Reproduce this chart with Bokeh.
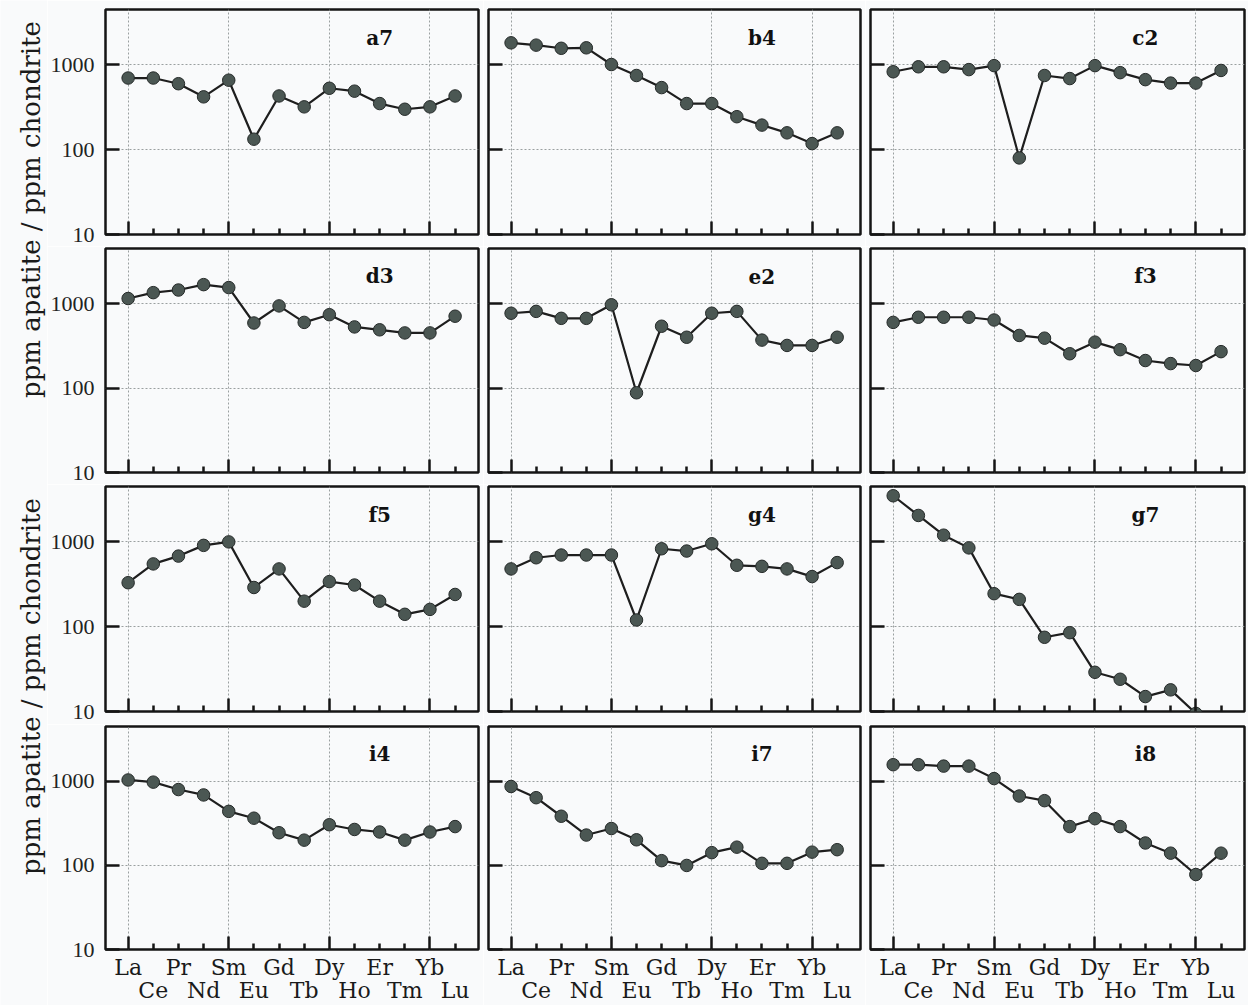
import math
from bokeh.plotting import figure
from bokeh.models import Range1d, FixedTicker, LinearAxis, PrintfTickFormatter, ColumnDataSource
from bokeh.layouts import row, column
from bokeh.embed import file_html
from bokeh.resources import INLINE
from bokeh.core.properties import value

nan = float("nan")

# ---------------- data ----------------
elements = ["La", "Ce", "Pr", "Nd", "Sm", "Eu", "Gd", "Tb", "Dy", "Ho", "Er", "Tm", "Yb", "Lu"]
upper_labels = ["La", "Pr", "Sm", "Gd", "Dy", "Er", "Yb"]
lower_labels = ["Ce", "Nd", "Eu", "Tb", "Ho", "Tm", "Lu"]
y_ticks = [10, 100, 1000]
y_title = "ppm apatite / ppm chondrite"

a7 = [700, 700, 600, 420, 660, 133, 430, 320, 530, 490, 350, 300, 320, 430]
b4 = [1820, 1710, 1570, 1590, 1010, 750, 540, 350, 350, 245, 195, 158, 118, 158]
c2 = [830, 950, 950, 880, 980, 80, 750, 690, 980, 810, 670, 610, 610, 860]
d3 = [1150, 1350, 1450, 1680, 1550, 590, 940, 600, 740, 530, 490, 450, 450, 710]
e2 = [770, 810, 670, 670, 970, 88, 540, 400, 770, 810, 370, 320, 320, 400]
f3 = [600, 690, 690, 690, 640, 420, 390, 255, 350, 285, 212, 195, 185, 270]
f5 = [330, 550, 680, 910, 1000, 290, 480, 200, 340, 310, 200, 140, 160, 240]
g4 = [480, 650, 700, 700, 700, 120, 830, 780, 950, 530, 515, 480, 390, 570]
g7 = [3500, 2050, 1200, 850, 245, 210, 75, 85, 29, 24, 15, 18, 9.5, nan]
i4 = [1040, 980, 800, 690, 440, 365, 245, 200, 305, 268, 250, 200, 250, 290]
i7 = [870, 640, 385, 230, 275, 202, 114, 100, 142, 165, 106, 106, 144, 154]
i8 = [1580, 1580, 1520, 1520, 1080, 670, 590, 290, 360, 290, 185, 140, 78, 140]

panel_names = [["a7", "b4", "c2"], ["d3", "e2", "f3"], ["f5", "g4", "g7"], ["i4", "i7", "i8"]]
panel_values = {"a7": a7, "b4": b4, "c2": c2, "d3": d3, "e2": e2, "f3": f3,
                "f5": f5, "g4": g4, "g7": g7, "i4": i4, "i7": i7, "i8": i8}

# ---------------- geometry / style ----------------
TITLE_W = 47
col_specs = [(56, 375, 5), (5, 372, 5), (5, 374, 4)]          # left border, frame width, right border
row_specs = [(9, 225, 12), (2, 224, 12), (2, 225, 13), (2, 223, 56)]  # top border, frame height, bottom border
BG = "#f9fafb"
SERIF = "DejaVu Serif"
TICK_FONT = "Liberation Serif"
INK = "#151515"
positions = list(range(len(elements)))


def hide_labels(ax):
    ax.major_label_text_color = None
    ax.major_label_text_font_size = "1px"
    ax.major_label_standoff = 0


def make_panel(name, vals, r, c):
    lb, fw, rb = col_specs[c]
    tb, fh, bb = row_specs[r]
    p = figure(width=lb + fw + rb, height=tb + fh + bb, y_axis_type="log",
               x_range=Range1d(-0.9, 13.93), y_range=Range1d(10, 4500),
               output_backend="svg", toolbar_location=None,
               min_border_left=lb, min_border_right=rb, min_border_top=tb, min_border_bottom=bb,
               background_fill_color=BG, border_fill_color=BG)
    p.outline_line_color = INK
    p.outline_line_width = 2.5
    p.outline_line_alpha = 1.0

    # x axis (ticks only)
    xa = p.below[0]
    xa.ticker = FixedTicker(ticks=[0, 4, 8, 12], minor_ticks=[1, 2, 3, 5, 6, 7, 9, 10, 11, 13])
    hide_labels(xa)
    xa.axis_line_color = None
    xa.major_tick_in = 13
    xa.major_tick_out = 0
    xa.minor_tick_in = 6
    xa.minor_tick_out = 0
    xa.major_tick_line_width = 2.5
    xa.minor_tick_line_width = 2.5
    xa.major_tick_line_color = INK
    xa.minor_tick_line_color = INK

    # y axis
    ya = p.left[0]
    ya.ticker = FixedTicker(ticks=y_ticks, minor_ticks=[])
    ya.formatter = PrintfTickFormatter(format="%d")
    ya.axis_line_color = None
    ya.major_tick_in = 14
    ya.major_tick_out = 0
    ya.minor_tick_in = 0
    ya.minor_tick_out = 0
    ya.major_tick_line_width = 2.5
    ya.major_tick_line_color = INK
    if c == 0:
        ya.major_label_text_font = TICK_FONT
        ya.major_label_text_font_size = "22px"
        ya.major_label_text_color = "#222222"
        ya.major_label_standoff = 11
    else:
        hide_labels(ya)

    # grids
    p.xgrid.ticker = FixedTicker(ticks=[0, 4, 8, 12])
    p.ygrid.ticker = FixedTicker(ticks=[100, 1000])
    for g in (p.xgrid, p.ygrid):
        g.grid_line_color = "#9aa0a0"
        g.grid_line_dash = "2 2"
        g.grid_line_width = 1

    # bottom row labels in two staggered lines
    if r == 3:
        up = LinearAxis(ticker=FixedTicker(ticks=positions[0::2]),
                        major_label_overrides={k: lab for k, lab in zip(positions[0::2], upper_labels)})
        lo = LinearAxis(ticker=FixedTicker(ticks=positions[1::2]),
                        major_label_overrides={k: lab for k, lab in zip(positions[1::2], lower_labels)})
        for ax, so in ((up, 5), (lo, -5)):
            ax.axis_line_color = None
            ax.major_tick_in = 0
            ax.major_tick_out = 0
            ax.minor_tick_in = 0
            ax.minor_tick_out = 0
            ax.major_label_text_font = SERIF
            ax.major_label_text_font_size = "22px"
            ax.major_label_text_color = "#1a1a1a"
            ax.major_label_standoff = so
            p.add_layout(ax, "below")

    src = ColumnDataSource(dict(x=positions, y=vals))
    p.line("x", "y", source=src, line_color="#1e1e1e", line_width=2.2)
    p.scatter("x", "y", source=src, marker="circle", size=12.5,
              fill_color="#4b5753", line_color="#252a29", line_width=1)
    p.text(x=[10], y=[2100], text=[name], text_font=value(SERIF), text_font_size="20px",
           text_font_style="bold", text_align="center", text_baseline="middle", text_color="#111111")
    return p


rows = []
for r, names in enumerate(panel_names):
    rows.append(row([make_panel(n, panel_values[n], r, c) for c, n in enumerate(names)]))
grid = column(rows)

total_h = sum(t + f + b for t, f, b in row_specs)
tf = figure(width=TITLE_W, height=total_h, x_range=Range1d(0, TITLE_W), y_range=Range1d(total_h, 0),
            output_backend="svg", toolbar_location=None,
            min_border_left=0, min_border_right=0, min_border_top=0, min_border_bottom=0,
            background_fill_color=BG, border_fill_color=BG)
tf.axis.visible = False
tf.grid.visible = False
tf.outline_line_color = None
tf.text(x=[30, 30], y=[209, 686], text=[y_title, y_title], angle=math.pi / 2,
        text_font=value(SERIF), text_font_size="26px", text_align="center",
        text_baseline="middle", text_color="#1a1a1a")

layout = row(tf, grid)
open("out.html", "w").write(file_html(layout, INLINE))
